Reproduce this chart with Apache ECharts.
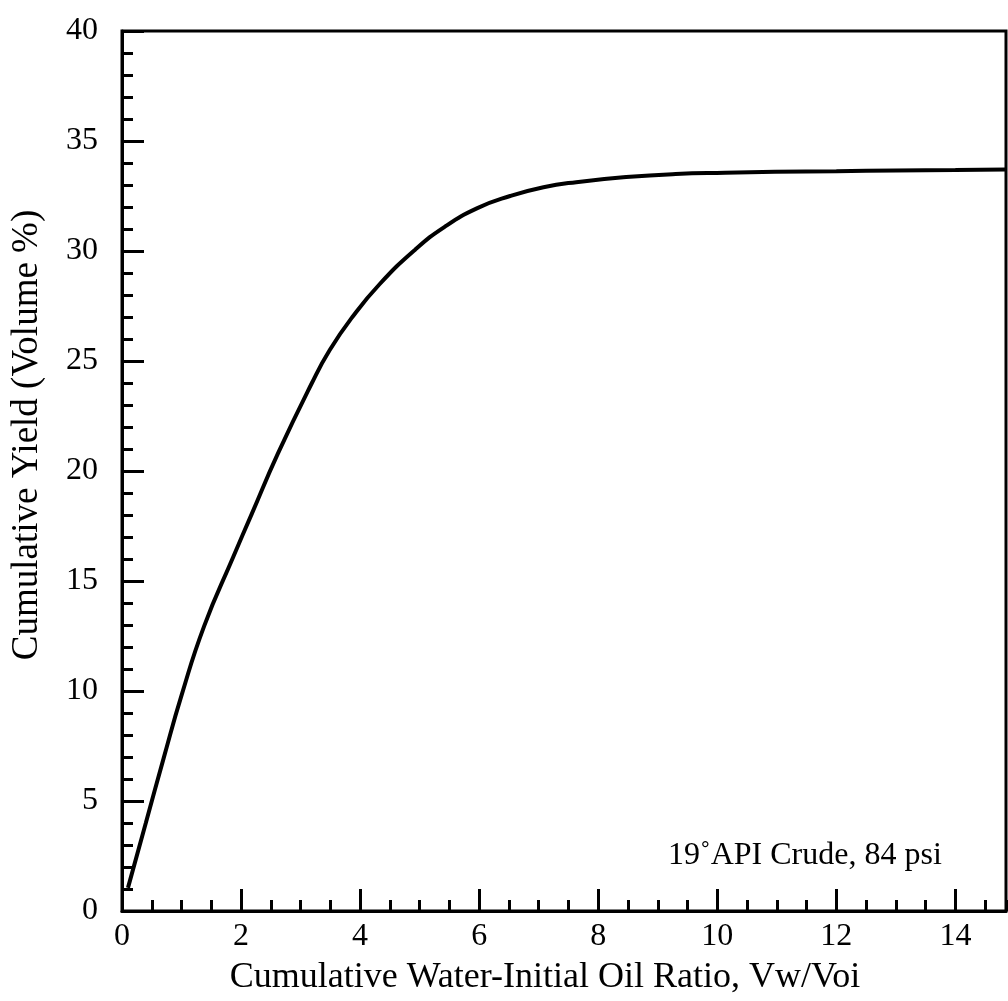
<!DOCTYPE html>
<html>
<head>
<meta charset="utf-8">
<title>Cumulative Yield</title>
<script src="https://cdn.jsdelivr.net/npm/echarts@6/dist/echarts.min.js"></script>
<style>
  html, body { margin: 0; padding: 0; background: #fff; }
  #chart { width: 1008px; height: 1001px; }
</style>
</head>
<body>
<div id="chart"></div>
<script>
// curve: cumulative water-initial oil ratio vs cumulative yield
var ratio = [0.1, 0.4, 0.7, 1.0, 1.38, 1.87, 2.18, 2.62, 3.19, 3.49, 3.87, 4.33, 4.92, 5.42, 5.97, 6.52, 7.08, 7.63, 8.47, 9.3, 10.13, 10.97, 12, 13, 14, 14.85];
var yieldPct = [1.05, 4.0, 6.95, 9.8, 12.95, 16.1, 18.05, 20.8, 24.0, 25.5, 27.0, 28.5, 30.05, 31.1, 31.95, 32.5, 32.9, 33.13, 33.36, 33.5, 33.56, 33.6, 33.63, 33.66, 33.68, 33.7];
var note = '19\u02DAAPI Crude, 84 psi';

var serif = '"Liberation Serif", "Times New Roman", serif';
var chart = echarts.init(document.getElementById('chart'));

var points = [];
for (var i = 0; i < ratio.length; i++) {
  points.push([ratio[i], yieldPct[i]]);
}

var option = {
  animation: false,
  backgroundColor: '#fff',
  grid: {
    left: 122,
    right: 2,
    top: 31,
    bottom: 90,
    show: true,
    borderColor: '#000',
    borderWidth: 3
  },
  xAxis: [
    {
      type: 'value',
      min: 0,
      max: 14.85,
      interval: 2,
      name: 'Cumulative Water-Initial Oil Ratio, Vw/Voi',
      nameLocation: 'middle',
      nameGap: 49,
      nameTextStyle: { fontFamily: serif, fontSize: 36, color: '#000', padding: [0, 38, 0, 0] },
      axisLine: { show: true, lineStyle: { color: '#000', width: 3 } },
      axisTick: { show: true, inside: true, length: 22, lineStyle: { color: '#000', width: 3 } },
      axisLabel: {
        fontFamily: serif, fontSize: 32, color: '#000', margin: 10, showMaxLabel: false,
        formatter: function (v) { return v % 2 === 0 ? String(v) : ''; }
      },
      splitLine: { show: false }
    },
    {
      // minor ticks every 0.5
      type: 'value',
      position: 'bottom',
      min: 0,
      max: 14.85,
      interval: 0.5,
      axisLine: { show: false },
      axisTick: { show: true, inside: true, length: 11, lineStyle: { color: '#000', width: 3 } },
      axisLabel: { show: false },
      splitLine: { show: false }
    }
  ],
  yAxis: {
    type: 'value',
    min: 0,
    max: 40,
    interval: 5,
    name: 'Cumulative Yield (Volume %)',
    nameLocation: 'middle',
    nameGap: 76,
    nameTextStyle: { fontFamily: serif, fontSize: 37, color: '#000', padding: [0, 0, 0, 72] },
    axisLine: { show: true, lineStyle: { color: '#000', width: 3 } },
    axisTick: { show: true, inside: true, length: 22, lineStyle: { color: '#000', width: 3 } },
    minorTick: { show: true, splitNumber: 5, length: 11, lineStyle: { color: '#000', width: 3 } },
    axisLabel: { fontFamily: serif, fontSize: 32, color: '#000', margin: 24, padding: [0, 0, 15, 0] },
    splitLine: { show: false }
  },
  graphic: [
    {
      type: 'text',
      left: 668,
      top: 840,
      style: { text: note, fontFamily: serif, fontSize: 32, fill: '#000' }
    }
  ],
  series: [
    {
      type: 'line',
      xAxisIndex: 0,
      data: points,
      smooth: 0.5,
      showSymbol: false,
      lineStyle: { color: '#000', width: 4 }
    }
  ]
};
chart.setOption(option);
</script>
</body>
</html>
